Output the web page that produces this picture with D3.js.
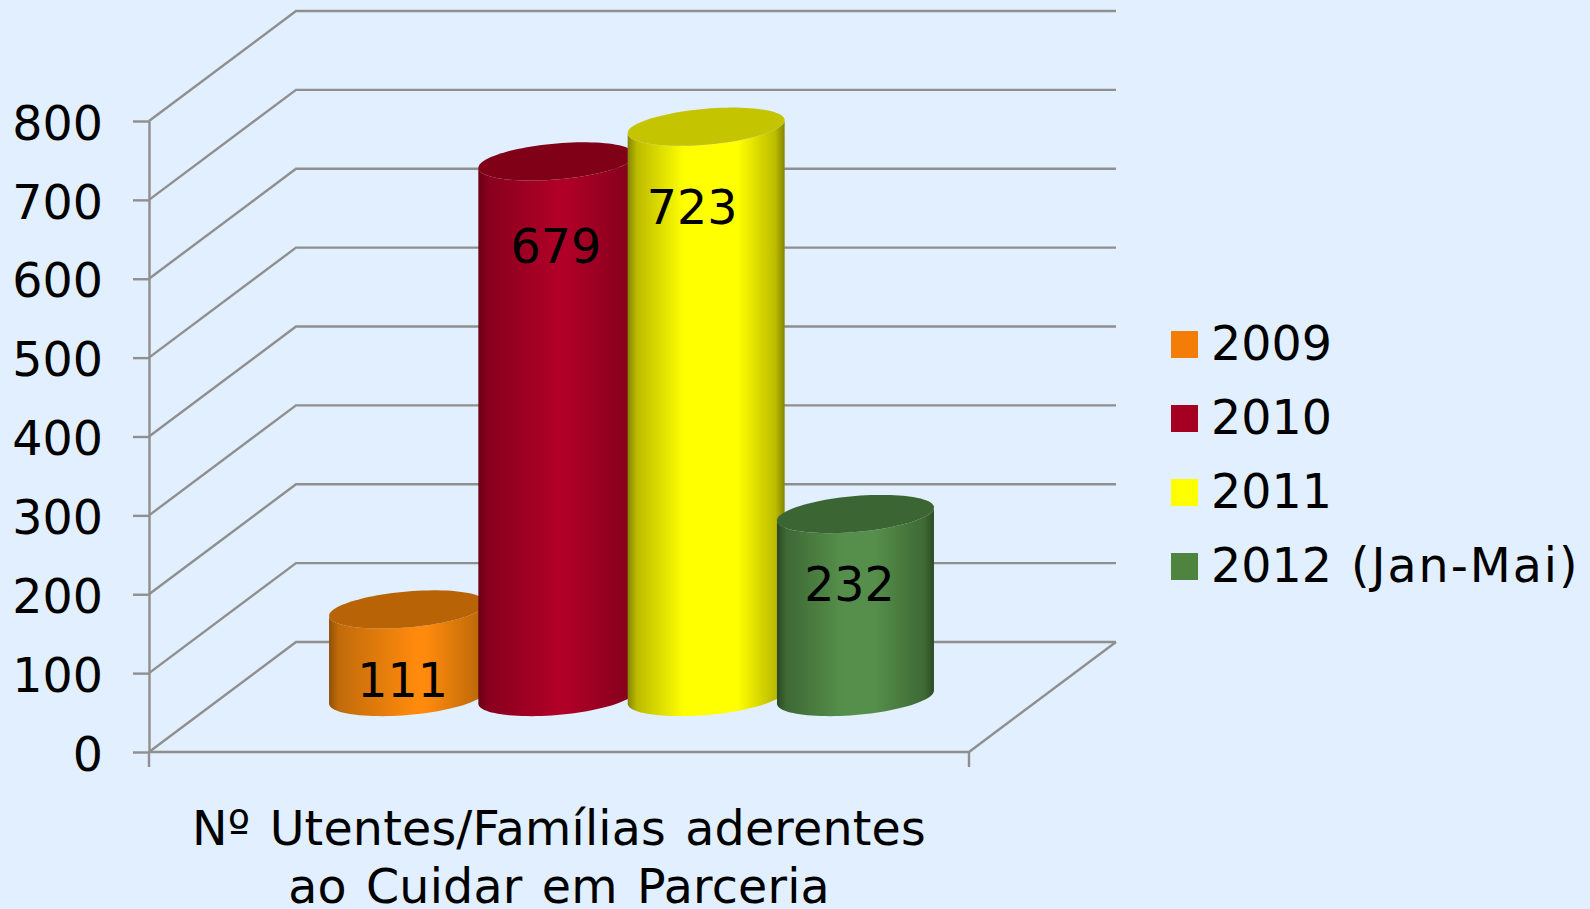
<!DOCTYPE html>
<html>
<head>
<meta charset="utf-8">
<script src="https://cdn.jsdelivr.net/npm/d3@7"></script>
<style>
  html, body { margin: 0; padding: 0; background: #e1effe; overflow: hidden; }
  text { font-family: "DejaVu Sans", sans-serif; fill: #000; }
</style>
</head>
<body>
<script>
var years = ["2009", "2010", "2011", "2012 (Jan-Mai)"];
var values = [111, 679, 723, 232];
var yTicks = [0, 100, 200, 300, 400, 500, 600, 700, 800];
var categoryLines = ["Nº Utentes/Famílias aderentes", "ao Cuidar em Parceria"];

// colours per series: side edge, side highlight, top cap, legend swatch
var edgeColors = ["#8f5208", "#680014", "#858500", "#2b4a23"];
var lightColors = ["#ff8a0c", "#b00028", "#ffff00", "#568f4b"];
var capColors = ["#b86305", "#800018", "#c4c400", "#3b6633"];
var legendColors = ["#f47d08", "#a50021", "#ffff00", "#4f8440"];
// where the highlight starts and ends across each cylinder
var lightStart = [0.55, 0.5, 0.36, 0.42];
var lightEnd = [0.62, 0.56, 0.7, 0.62];

var svgWidth = 1590;
var svgHeight = 909;
var fontSize = 47.5;

// the box: front-left corner to front-right corner, and how far the back wall is shifted
var frontLeft = 149;
var frontRight = 969;
var depth = { x: 147, y: -110 };
var gridColor = "#8f8f8f";
var gridWidth = 2.4;

var svg = d3.select("body")
  .append("svg")
  .attr("width", svgWidth)
  .attr("height", svgHeight)
  .style("display", "block");

var yScale = d3.scaleLinear()
  .domain([0, 800])
  .range([752, 121]);

var xScale = d3.scaleBand()
  .domain(years)
  .range([frontLeft, frontRight])
  .paddingInner(0)
  .paddingOuter(0.746);

// walls
var grid = svg.append("g")
  .attr("fill", "none")
  .attr("stroke", gridColor)
  .attr("stroke-width", gridWidth);

yTicks.forEach(function(t) {
  var y = yScale(t);
  grid.append("path")
    .attr("d", d3.line()([
      [frontLeft, y],
      [frontLeft + depth.x, y + depth.y],
      [frontLeft + depth.x + (frontRight - frontLeft), y + depth.y]
    ]));
});

// floor
grid.append("path")
  .attr("d", d3.line()([
    [frontLeft, yScale(0)],
    [frontRight, yScale(0)],
    [frontRight + depth.x, yScale(0) + depth.y]
  ]));
grid.append("line")
  .attr("x1", frontLeft).attr("x2", frontLeft)
  .attr("y1", yScale(0)).attr("y2", yScale(0) + 15);
grid.append("line")
  .attr("x1", frontRight).attr("x2", frontRight)
  .attr("y1", yScale(0)).attr("y2", yScale(0) + 15);

// y axis
var yAxis = svg.append("g")
  .attr("transform", `translate(${frontLeft}, 0)`)
  .call(d3.axisLeft(yScale)
    .tickValues(yTicks)
    .tickSize(16)
    .tickPadding(30)
    .tickSizeOuter(0));
yAxis.selectAll("path, line")
  .attr("stroke", gridColor)
  .attr("stroke-width", gridWidth);
yAxis.selectAll("text")
  .attr("y", 3)
  .style("font-size", fontSize + "px")
  .style("font-family", '"DejaVu Sans", sans-serif')
  .attr("fill", "#000");

// gradients for the cylinder sides
var defs = svg.append("defs");
years.forEach(function(year, i) {
  var grad = defs.append("linearGradient")
    .attr("id", "side" + i)
    .attr("x1", 0).attr("x2", 1).attr("y1", 0).attr("y2", 0);
  var mid = d3.interpolateRgb(edgeColors[i], lightColors[i])(0.45);
  [[0, edgeColors[i]], [0.06, mid], [lightStart[i], lightColors[i]], [lightEnd[i], lightColors[i]], [0.94, mid], [1, edgeColors[i]]].forEach(function(s) {
    grad.append("stop").attr("offset", s[0]).attr("stop-color", s[1]);
  });
});

// cylinders sit in the middle of the floor depth
var radius = 78.5;
var squash = 18;
var tilt = 6.5;
var floorShift = { x: depth.x / 2, y: depth.y / 2 };

function rimPoint(cx, cy, t) {
  return [
    cx + radius * Math.cos(t),
    cy + squash * Math.sin(t) - tilt * Math.cos(t)
  ];
}

var steps = d3.range(0, 49);

years.forEach(function(year, i) {
  var cx = xScale(year) + xScale.bandwidth() / 2 + floorShift.x - 1;
  var baseY = yScale(0) + floorShift.y;
  var topY = yScale(values[i]) + floorShift.y;

  var front = steps.map(function(s) { return rimPoint(cx, baseY, Math.PI - s / 48 * Math.PI); });
  var back = steps.map(function(s) { return rimPoint(cx, topY, s / 48 * Math.PI); });
  var cap = d3.range(0, 97).map(function(s) { return rimPoint(cx, topY, s / 96 * 2 * Math.PI); });

  svg.append("path")
    .attr("d", d3.line()(front.concat(back)) + "Z")
    .attr("fill", `url(#side${i})`);

  svg.append("path")
    .attr("d", d3.line()(cap) + "Z")
    .attr("fill", capColors[i]);
});

// value labels, hand placed in the source chart relative to the cap centre
var labelNudge = [[-6, 88], [-2, 102], [-15, 97], [-7, 87]];
svg.append("g")
  .selectAll("text")
  .data(values)
  .enter()
  .append("text")
  .attr("x", (d, i) => xScale(years[i]) + xScale.bandwidth() / 2 + floorShift.x + labelNudge[i][0])
  .attr("y", (d, i) => yScale(d) + floorShift.y + labelNudge[i][1])
  .attr("text-anchor", "middle")
  .style("font-size", fontSize + "px")
  .text(d => d);

// category label
svg.append("g")
  .selectAll("text")
  .data(categoryLines)
  .enter()
  .append("text")
  .attr("x", 559)
  .attr("y", (d, i) => 845 + i * 58)
  .attr("text-anchor", "middle")
  .style("font-size", fontSize + "px")
  .style("letter-spacing", "0.2px")
  .style("word-spacing", "4px")
  .text(d => d);

// legend
var legend = svg.append("g")
  .selectAll("g")
  .data(years)
  .enter()
  .append("g")
  .attr("transform", (d, i) => `translate(1171, ${331 + i * 74})`);

legend.append("rect")
  .attr("width", 27)
  .attr("height", 27)
  .attr("fill", (d, i) => legendColors[i]);

var legendText = legend.append("text")
  .attr("x", 40)
  .attr("y", 29)
  .style("font-size", fontSize + "px");

legendText.append("tspan")
  .text(d => d.split(" ")[0]);

// the month part runs wider in the source font
legendText.append("tspan")
  .attr("dx", 19)
  .style("letter-spacing", "2px")
  .text(d => d.split(" ")[1] || "");
</script>
</body>
</html>
